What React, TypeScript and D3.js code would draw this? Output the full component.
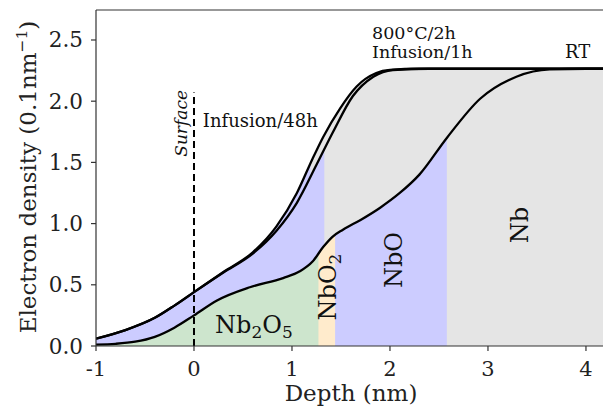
import React from 'react';
import * as d3 from 'd3';

const W = 603;
const H = 410;

const xTicks = [-1, 0, 1, 2, 3, 4];
const xTickLabels = ['-1', '0', '1', '2', '3', '4'];
const yTicks = [0, 0.5, 1.0, 1.5, 2.0, 2.5];
const yTickLabels = ['0.0', '0.5', '1.0', '1.5', '2.0', '2.5'];

// Curve A: Infusion/48h (leftmost)
const depthA = [-1, -0.7, -0.4, -0.2, 0, 0.3, 0.6, 0.84, 1.05, 1.21, 1.32, 1.49, 1.66, 1.86, 2.0, 2.3, 4.2];
const densityA = [0.06, 0.13, 0.23, 0.33, 0.44, 0.605, 0.765, 0.975, 1.25, 1.53, 1.71, 1.94, 2.12, 2.23, 2.255, 2.265, 2.265];

// Curve B: Infusion/1h, 800°C/2h
const depthB = [-1, -0.7, -0.4, -0.2, 0, 0.3, 0.6, 0.84, 1.05, 1.25, 1.42, 1.62, 1.83, 2.03, 2.4, 4.2];
const densityB = [0.06, 0.13, 0.23, 0.33, 0.44, 0.6, 0.755, 0.94, 1.17, 1.48, 1.75, 2.04, 2.2, 2.255, 2.265, 2.265];

// Curve RT
const depthRT = [-1, -0.8, -0.6, -0.4, -0.2, 0, 0.23, 0.57, 0.91, 1.08, 1.21, 1.32, 1.41, 1.52, 1.7, 1.9, 2.1, 2.3, 2.58, 2.92, 3.29, 3.63, 4.0, 4.2];
const densityRT = [0.012, 0.018, 0.035, 0.075, 0.15, 0.25, 0.37, 0.48, 0.555, 0.61, 0.69, 0.81, 0.89, 0.95, 1.03, 1.13, 1.25, 1.40, 1.70, 2.02, 2.2, 2.26, 2.265, 2.265];

// Region boundaries (nm)
const boundA = 1.19;
const boundB = 1.33;
const rtBounds = [-1, 1.27, 1.44, 2.58, 4.2];
const rtColors = ['#cde5cd', '#ffebcc', '#ccccff', '#e5e5e5'];

const xDomain = [-1, 4.18];
const yDomain = [0, 2.745];

export default function App() {
  const x = d3.scaleLinear().domain(xDomain).range([96, 603.6]);
  const y = d3.scaleLinear().domain(yDomain).range([346, 10]);

  const mk = (xs: number[], ys: number[]) => xs.map((d, i) => [d, ys[i]] as [number, number]);
  const A = mk(depthA, densityA);
  const B = mk(depthB, densityB);
  const RT = mk(depthRT, densityRT);

  const line = d3.line<[number, number]>().x(d => x(d[0])).y(d => y(d[1])).curve(d3.curveMonotoneX);
  const area = d3.area<[number, number]>().x(d => x(d[0])).y0(y(0)).y1(d => y(d[1])).curve(d3.curveMonotoneX);

  const clipRect = (id: string, a: number, b: number) => (
    <clipPath id={id} key={id}>
      <rect x={x(a)} y={0} width={x(b) - x(a)} height={y(0)} />
    </clipPath>
  );

  const serif = "'DejaVu Serif', serif";

  return (
    <svg width={W} height={H} style={{ position: 'absolute', left: 0, top: 0, background: '#fff' }}
      fontFamily={serif}>
      <defs>
        {clipRect('cA1', -1, boundA)}
        {clipRect('cA2', boundA, 4.3)}
        {clipRect('cB1', -1, boundB)}
        {clipRect('cB2', boundB, 4.3)}
        {rtBounds.slice(0, -1).map((b, i) => clipRect('cR' + i, b, rtBounds[i + 1] + 0.1))}
        <clipPath id="plot"><rect x={96} y={10} width={W - 96} height={336} /></clipPath>
      </defs>
      <g clipPath="url(#plot)">
        <path d={area(A) || ''} fill="#e5e5e5" clipPath="url(#cA2)" />
        <path d={area(B) || ''} fill="#e5e5e5" clipPath="url(#cB2)" />
        <path d={area(A) || ''} fill="#ccccff" clipPath="url(#cA1)" />
        <path d={area(B) || ''} fill="#ccccff" clipPath="url(#cB1)" />
        {rtColors.map((c, i) => (
          <path key={i} d={area(RT) || ''} fill={c} clipPath={`url(#cR${i})`} />
        ))}
        <line x1={x(0)} x2={x(0)} y1={y(0)} y2={y(2.07)} stroke="#000" strokeWidth={2} strokeDasharray="7,4" />
        <path d={line(A) || ''} fill="none" stroke="#000" strokeWidth={2.3} />
        <path d={line(B) || ''} fill="none" stroke="#000" strokeWidth={2.3} />
        <path d={line(RT) || ''} fill="none" stroke="#000" strokeWidth={2.3} />
      </g>

      {/* spines */}
      <line x1={96} x2={96} y1={10} y2={346} stroke="#333" strokeWidth={1.2} />
      <line x1={96} x2={W} y1={346} y2={346} stroke="#333" strokeWidth={1.2} />
      <line x1={96} x2={W} y1={10} y2={10} stroke="#333" strokeWidth={1.2} />

      {xTicks.map((t, i) => (
        <g key={'x' + i}>
          <line x1={x(t)} x2={x(t)} y1={346} y2={351} stroke="#333" strokeWidth={1.2} />
          <text x={x(t)} y={376} fontSize={21} textAnchor="middle" fill="#222">{xTickLabels[i]}</text>
        </g>
      ))}
      {yTicks.map((t, i) => (
        <g key={'y' + i}>
          <line x1={91} x2={96} y1={y(t)} y2={y(t)} stroke="#333" strokeWidth={1.2} />
          <text x={83} y={y(t) + 7.5} fontSize={21.5} textAnchor="end" fill="#222">{yTickLabels[i]}</text>
        </g>
      ))}

      <text x={351} y={401} fontSize={23} textAnchor="middle" fill="#222">Depth (nm)</text>
      <text transform={`translate(36,177) rotate(-90)`} fontSize={23} textAnchor="middle" fill="#222">
        Electron density (0.1nm<tspan dy={-9} fontSize={15.5}>−1</tspan><tspan dy={9}>)</tspan>
      </text>

      {/* annotations */}
      <text transform={`translate(187,90) rotate(-90)`} fontSize={17} fontStyle="italic" textAnchor="end" fill="#111">Surface</text>
      <text x={x(0.09)} y={127} fontSize={18} fill="#111">Infusion/48h</text>
      <text x={372} y={39} fontSize={17.5} fill="#111">800°C/2h</text>
      <text x={372} y={58} fontSize={17.5} fill="#111">Infusion/1h</text>
      <text x={565} y={58} fontSize={18} fill="#111">RT</text>

      <text x={215} y={333} fontSize={24} fill="#111">Nb<tspan dy={5} fontSize={17}>2</tspan><tspan dy={-5}>O</tspan><tspan dy={5} fontSize={17}>5</tspan></text>
      <text transform={`translate(336,287) rotate(-90)`} fontSize={24} textAnchor="middle" fill="#111">NbO<tspan dy={5} fontSize={17}>2</tspan></text>
      <text transform={`translate(402,260) rotate(-90)`} fontSize={24} textAnchor="middle" fill="#111">NbO</text>
      <text transform={`translate(528,225) rotate(-90)`} fontSize={24} textAnchor="middle" fill="#111">Nb</text>
    </svg>
  );
}
